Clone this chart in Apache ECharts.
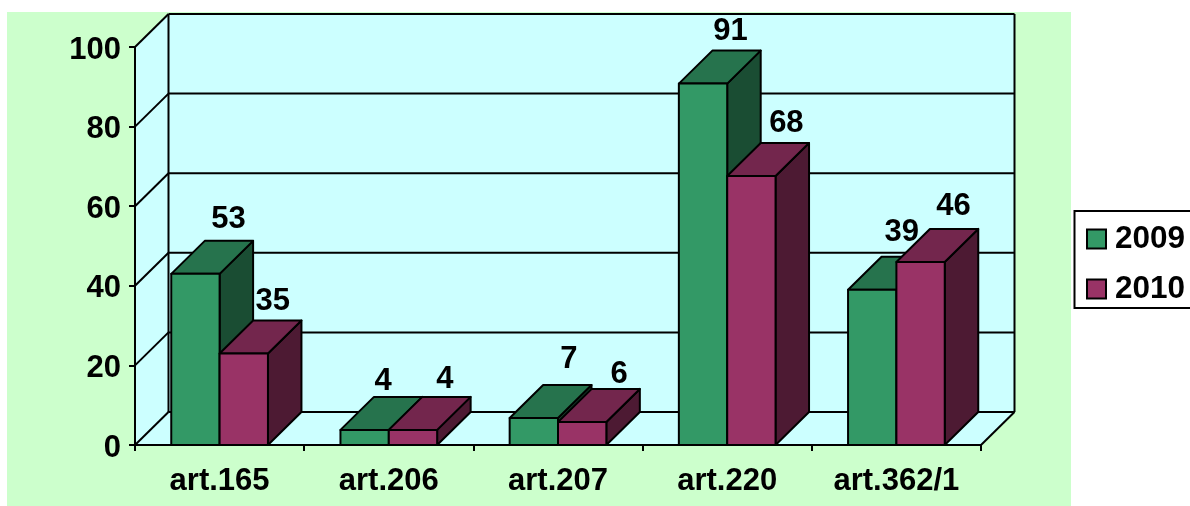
<!DOCTYPE html>
<html>
<head>
<meta charset="utf-8">
<style>html,body{margin:0;padding:0;background:#fff}#c{width:1190px;height:506px}</style>
<script src="https://cdn.jsdelivr.net/npm/echarts@6/dist/echarts.min.js"></script>
</head>
<body>
<div id="c"></div>
<script>
const categories = ['art.165', 'art.206', 'art.207', 'art.220', 'art.362/1'];
const seriesNames = ['2009', '2010'];
// Drawn bar heights
const heights2009 = [43, 3.8, 6.8, 90.8, 39];
const heights2010 = [23, 3.8, 5.8, 67.6, 46];
// Printed data labels (the first group's labels differ from its bar heights in the source)
const labels2009 = [53, 4, 7, 91, 39];
const labels2010 = [35, 4, 6, 68, 46];
const yTicks = [0, 20, 40, 60, 80, 100];

// Layout of the oblique projection and label placement (pixels)
const DX = 33.5, DY = 33;
const BAR_FRACTION = 1 / 3.5;
const nudge2009 = [[33, -54], [18.5, -48], [35, -58], [27.5, -52], [29.5, -57]];
const nudge2010 = [[29, -52], [32, -50], [37, -47], [35, -52], [33, -55]];

const FONT = '"Liberation Sans", Arial, sans-serif';
const FS = 31;
const palette = {
  '2009': { front: '#339966', top: '#26734D', side: '#1A4D33' },
  '2010': { front: '#993366', top: '#73264D', side: '#4D1A33' }
};
const lineStyle = { stroke: '#000', lineWidth: 2, lineJoin: 'round' };

function poly(points, fill) {
  return { type: 'polygon', shape: { points }, style: Object.assign({ fill }, lineStyle) };
}
function seg(x1, y1, x2, y2) {
  return { type: 'line', shape: { x1, y1, x2, y2 }, style: { stroke: '#000', lineWidth: 2 } };
}

function renderWall(params, api) {
  const cs = params.coordSys;
  const y = api.coord([0, api.value(0)])[1];
  const l = cs.x, r = cs.x + cs.width, children = [];
  if (api.value(0) === 0) {
    const t = cs.y, b = cs.y + cs.height;
    children.push({
      type: 'polygon',
      shape: { points: [[l, t], [l + DX, t - DY], [r + DX, t - DY], [r + DX, b - DY], [r, b], [l, b]] },
      style: { fill: '#CCFFFF' }
    });
    children.push(seg(l + DX, t - DY, l + DX, b - DY));
    children.push(seg(r + DX, t - DY, r + DX, b - DY));
    children.push(seg(r, b, r + DX, b - DY));
  }
  children.push(seg(l, y, l + DX, y - DY));
  children.push(seg(l + DX, y - DY, r + DX, y - DY));
  return { type: 'group', children };
}

function renderBar(name, index) {
  return function (params, api) {
    const cat = api.value(0), val = api.value(1);
    const c = api.coord([cat, val]);
    const base = api.coord([cat, 0]);
    const w = api.size([1, 0])[0] * BAR_FRACTION;
    const x0 = c[0] + (index - 1) * w, x1 = x0 + w;
    const t = c[1], b = base[1];
    const col = palette[name];
    return {
      type: 'group',
      children: [
        poly([[x1, t], [x1 + DX, t - DY], [x1 + DX, b - DY], [x1, b]], col.side),
        poly([[x0, t], [x0 + DX, t - DY], [x1 + DX, t - DY], [x1, t]], col.top),
        poly([[x0, t], [x1, t], [x1, b], [x0, b]], col.front)
      ]
    };
  };
}

function renderLabel(params, api) {
  const cat = api.value(0), val = api.value(1), s = api.value(3);
  const c = api.coord([cat, val]);
  const w = api.size([1, 0])[0] * BAR_FRACTION;
  const n = (s === 0 ? nudge2009 : nudge2010)[cat];
  return {
    type: 'text',
    style: {
      x: c[0] + (s - 0.5) * w + n[0], y: c[1] + n[1],
      text: String(api.value(2)),
      fill: '#000', font: 'bold ' + FS + 'px ' + FONT,
      align: 'center', verticalAlign: 'middle'
    }
  };
}

const barData = h => h.map((v, i) => [i, v]);
const labelData = [];
categories.forEach((_, i) => {
  labelData.push([i, heights2009[i], labels2009[i], 0]);
  labelData.push([i, heights2010[i], labels2010[i], 1]);
});

const chart = echarts.init(document.getElementById('c'), null, { renderer: 'canvas' });
chart.setOption({
  animation: false,
  backgroundColor: '#fff',
  textStyle: { fontFamily: FONT },
  graphic: [{
    type: 'rect', z: -10, silent: true,
    shape: { x: 7, y: 12, width: 1064, height: 494 },
    style: { fill: '#CCFFCC' }
  }],
  grid: { left: 135, top: 47, width: 846, height: 398, containLabel: false },
  xAxis: {
    type: 'category', data: categories, z: 6,
    axisLine: { show: true, lineStyle: { color: '#000', width: 2 } },
    axisTick: { show: true, length: 6, lineStyle: { color: '#000', width: 2 } },
    axisLabel: { color: '#000', fontSize: FS, fontWeight: 'bold', fontFamily: FONT, margin: 21, interval: 0 },
    splitLine: { show: false }
  },
  yAxis: {
    type: 'value', min: 0, max: 100, interval: 20, z: 6,
    axisLine: { show: true, lineStyle: { color: '#000', width: 2 } },
    axisTick: { show: true, length: 6, lineStyle: { color: '#000', width: 2 } },
    axisLabel: { color: '#000', fontSize: FS, fontWeight: 'bold', fontFamily: FONT, margin: 14, verticalAlign: 'top', lineHeight: 6 },
    splitLine: { show: false }
  },
  legend: {
    data: seriesNames, orient: 'vertical', left: 1074.5, top: 211,
    padding: [12, 40, 3, 11.5], itemGap: 18, itemWidth: 19, itemHeight: 19,
    icon: 'rect', backgroundColor: '#fff', borderColor: '#000', borderWidth: 2, borderRadius: 0,
    itemStyle: { borderColor: '#000', borderWidth: 2 },
    textStyle: { color: '#000', fontSize: 31.5, fontWeight: 'bold', fontFamily: FONT, padding: [0, 0, 0, 4] },
    selectedMode: false
  },
  series: [
    {
      name: 'walls', type: 'custom', z: 1, silent: true, clip: false,
      data: yTicks.map((t) => [t]),
      encode: { y: 0 },
      renderItem: renderWall
    },
    {
      name: seriesNames[0], type: 'custom', z: 2, clip: false,
      itemStyle: { color: palette['2009'].front },
      data: barData(heights2009), encode: { x: 0, y: 1 },
      renderItem: renderBar('2009', 0)
    },
    {
      name: seriesNames[1], type: 'custom', z: 3, clip: false,
      itemStyle: { color: palette['2010'].front },
      data: barData(heights2010), encode: { x: 0, y: 1 },
      renderItem: renderBar('2010', 1)
    },
    {
      name: 'labels', type: 'custom', z: 8, silent: true, clip: false,
      data: labelData, encode: { x: 0, y: 1 },
      renderItem: renderLabel
    }
  ]
});
</script>
</body>
</html>
